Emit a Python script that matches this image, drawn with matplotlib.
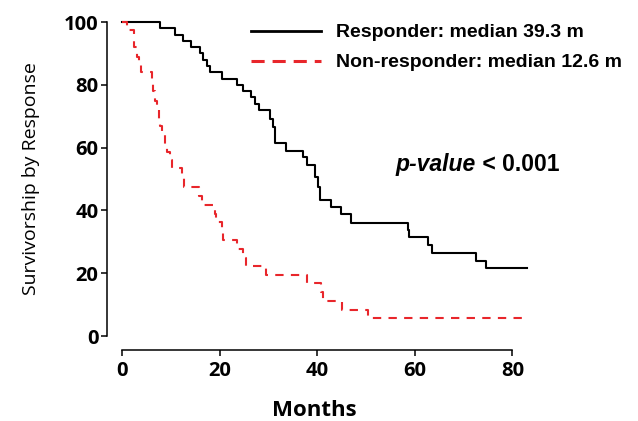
import matplotlib
matplotlib.use("Agg")
import matplotlib.pyplot as plt

# Kaplan-Meier style step data (months, % surviving)
resp_months = [0, 7.8, 10.8, 12.5, 14.1, 15.9, 16.6, 17.4, 18.0, 20.4, 23.5, 24.8,
               26.5, 27.2, 28.0, 30.3, 30.9, 31.3, 33.7, 37.0, 37.8, 39.5, 40.1,
               40.5, 42.9, 44.9, 47.0, 58.5, 58.9, 62.6, 63.6, 72.5, 74.6, 83.0]
resp_surv = [100, 98, 96, 94, 92, 90, 88, 86, 84, 82, 80, 78,
             76, 74, 72, 69, 66.7, 61.4, 59, 57, 54.5, 50.7, 47.5,
             43.3, 41.2, 39, 36, 33.8, 31.4, 29, 26.5, 24, 21.6, 21.6]

nonresp_months = [0, 1.0, 2.5, 3.0, 3.5, 3.9, 6.1, 6.4, 6.8, 7.2, 7.5, 7.8, 8.2,
                  8.8, 9.3, 9.8, 10.2, 12.3, 12.8, 15.8, 16.4, 19.0, 19.3, 20.4,
                  20.7, 23.5, 24.8, 25.5, 29.6, 37.8, 40.8, 41.2, 45.0, 50.5, 83.0]
nonresp_surv = [100, 97.5, 92, 89, 86.5, 84, 81, 78, 75, 72, 69, 67, 64,
                61, 58.5, 56, 53.4, 50.5, 47.6, 44.7, 41.7, 39, 36.4, 33.5,
                30.6, 27.8, 25, 22.2, 19.4, 16.9, 13.9, 11.1, 8.3, 5.6, 5.6]

x_ticks = [0, 20, 40, 60, 80]
y_ticks = [0, 20, 40, 60, 80, 100]

fig = plt.figure(figsize=(6.38, 4.21), dpi=100)
ax = fig.add_axes([122 / 638, 85 / 421, 410 / 638, 314 / 421])

ax.step(resp_months, resp_surv, where='post', color='black', lw=1.5,
        clip_on=False, label='Responder: median 39.3 m')
ax.step(nonresp_months, nonresp_surv, where='post', color='#e8262b', lw=1.5,
        ls=(0, (4, 3.5)), clip_on=False, label='Non-responder: median 12.6 m')

ax.set_xlim(0, 84)
ax.set_ylim(0, 100)

for s in ['top', 'right']:
    ax.spines[s].set_visible(False)
ax.spines['left'].set_position(('outward', 11))
ax.spines['bottom'].set_position(('outward', 10))
ax.spines['left'].set_bounds(0, 100)
ax.spines['bottom'].set_bounds(0, 80)
for s in ['left', 'bottom']:
    ax.spines[s].set_linewidth(1.1)

ax.set_xticks(x_ticks)
ax.set_yticks(y_ticks)
ax.tick_params(width=1.1, length=4, labelsize=14.5)
ax.tick_params(axis='x', pad=4)
ax.tick_params(axis='y', pad=2)
for lab in ax.get_xticklabels() + ax.get_yticklabels():
    lab.set_fontfamily('Open Sans')
    lab.set_fontweight('bold')

ax.set_xlabel('Months', fontfamily='Open Sans', fontweight='bold', fontsize=16, labelpad=14)
ax.xaxis.label.set_x(39.5 / 84)
ax.set_ylabel('Survivorship by Response', fontfamily='Open Sans', fontsize=14, labelpad=17)

leg = ax.legend(loc='upper left', bbox_to_anchor=(0.273, 1.05), frameon=False,
                prop={'family': 'Liberation Sans', 'weight': 'bold', 'size': 14},
                handlelength=3.6, handletextpad=0.77, labelspacing=0.64)
leg.get_lines()[0].set_linewidth(2)
leg.get_lines()[1].set_linewidth(2.2)
leg.get_lines()[1].set_dashes([4.3, 2.6])

t = ax.text(56, 54.5, 'p-value', fontfamily='Liberation Sans', fontweight='bold',
            fontstyle='italic', fontsize=16.5, va='center')
ax.annotate(' < 0.001', xy=(1, 0), xycoords=t, va='bottom',
            fontfamily='Liberation Sans', fontweight='bold', fontsize=16.5)

fig.savefig('out.png', dpi=100)
